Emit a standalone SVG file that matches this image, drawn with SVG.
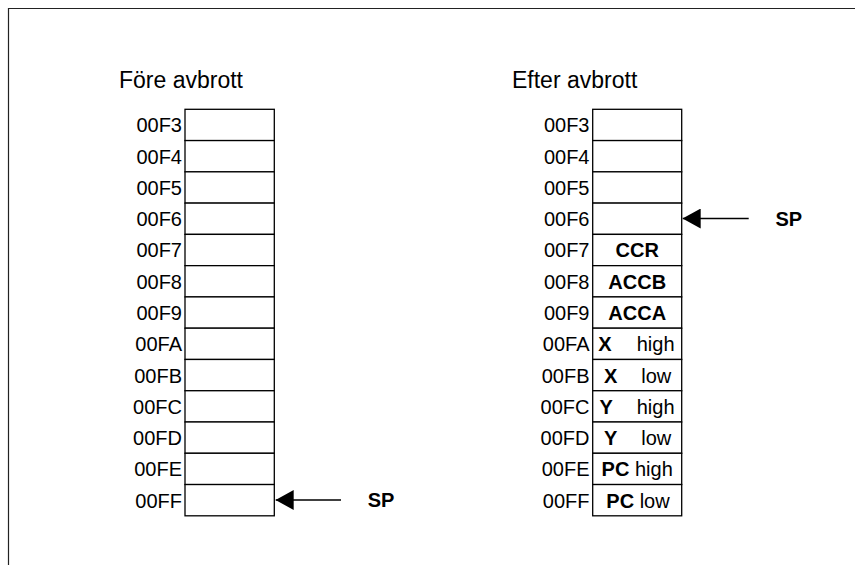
<svg xmlns="http://www.w3.org/2000/svg" width="855" height="565" viewBox="0 0 855 565">
<defs>
<style>
text{font-family:"Liberation Sans",Arial,sans-serif;fill:#000}
.title{font-size:23px}
.addr{font-size:20px;text-anchor:end}
.val{font-size:20px}
.c{text-anchor:middle}
.b{font-weight:bold}
.cell{fill:#fff;stroke:#000;stroke-width:1.3}
.frame{fill:none;stroke:#222;stroke-width:1.2}
.arrow{stroke:#000;stroke-width:1.3;fill:none;marker-end:url(#ah)}
</style>
<marker id="ah" viewBox="0 0 18 20" refX="18" refY="10" markerWidth="18" markerHeight="20" markerUnits="userSpaceOnUse" orient="auto">
<path d="M0,0 L18,10 L0,20 Z" fill="#000"/>
</marker>
</defs>
<rect width="855" height="565" fill="#fff"/>
<path class="frame" d="M8.5,565 V8.5 H855"/>
<text class="title" x="119" y="88">Före avbrott</text>
<text class="title" x="512" y="88">Efter avbrott</text>

<g id="before">
<g id="b00F3"><rect class="cell" x="185" y="109.3" width="89.3" height="31.27"/><text class="addr" x="182" y="132.3">00F3</text></g>
<g id="b00F4"><rect class="cell" x="185" y="140.57" width="89.3" height="31.27"/><text class="addr" x="182" y="163.6">00F4</text></g>
<g id="b00F5"><rect class="cell" x="185" y="171.84" width="89.3" height="31.27"/><text class="addr" x="182" y="194.8">00F5</text></g>
<g id="b00F6"><rect class="cell" x="185" y="203.11" width="89.3" height="31.27"/><text class="addr" x="182" y="226.1">00F6</text></g>
<g id="b00F7"><rect class="cell" x="185" y="234.38" width="89.3" height="31.27"/><text class="addr" x="182" y="257.4">00F7</text></g>
<g id="b00F8"><rect class="cell" x="185" y="265.65" width="89.3" height="31.27"/><text class="addr" x="182" y="288.7">00F8</text></g>
<g id="b00F9"><rect class="cell" x="185" y="296.92" width="89.3" height="31.27"/><text class="addr" x="182" y="319.9">00F9</text></g>
<g id="b00FA"><rect class="cell" x="185" y="328.19" width="89.3" height="31.27"/><text class="addr" x="182" y="351.2">00FA</text></g>
<g id="b00FB"><rect class="cell" x="185" y="359.46" width="89.3" height="31.27"/><text class="addr" x="182" y="382.5">00FB</text></g>
<g id="b00FC"><rect class="cell" x="185" y="390.73" width="89.3" height="31.27"/><text class="addr" x="182" y="413.7">00FC</text></g>
<g id="b00FD"><rect class="cell" x="185" y="422" width="89.3" height="31.27"/><text class="addr" x="182" y="445">00FD</text></g>
<g id="b00FE"><rect class="cell" x="185" y="453.27" width="89.3" height="31.27"/><text class="addr" x="182" y="476.3">00FE</text></g>
<g id="b00FF"><rect class="cell" x="185" y="484.54" width="89.3" height="31.27"/><text class="addr" x="182" y="507.5">00FF</text></g>
</g>

<g id="after">
<g id="a00F3"><rect class="cell" x="592.7" y="109.3" width="89" height="31.27"/><text class="addr" x="589.5" y="132.3">00F3</text></g>
<g id="a00F4"><rect class="cell" x="592.7" y="140.57" width="89" height="31.27"/><text class="addr" x="589.5" y="163.6">00F4</text></g>
<g id="a00F5"><rect class="cell" x="592.7" y="171.84" width="89" height="31.27"/><text class="addr" x="589.5" y="194.8">00F5</text></g>
<g id="a00F6"><rect class="cell" x="592.7" y="203.11" width="89" height="31.27"/><text class="addr" x="589.5" y="226.1">00F6</text></g>
<g id="a00F7"><rect class="cell" x="592.7" y="234.38" width="89" height="31.27"/><text class="addr" x="589.5" y="257.4">00F7</text><text class="val c b" x="637.2" y="257.4">CCR</text></g>
<g id="a00F8"><rect class="cell" x="592.7" y="265.65" width="89" height="31.27"/><text class="addr" x="589.5" y="288.7">00F8</text><text class="val c b" x="637.2" y="288.7">ACCB</text></g>
<g id="a00F9"><rect class="cell" x="592.7" y="296.92" width="89" height="31.27"/><text class="addr" x="589.5" y="319.9">00F9</text><text class="val c b" x="637.2" y="319.9">ACCA</text></g>
<g id="a00FA"><rect class="cell" x="592.7" y="328.19" width="89" height="31.27"/><text class="addr" x="589.5" y="351.2">00FA</text><text class="val b" x="598.3" y="351.2">X</text><text class="val" x="636.7" y="351.2">high</text></g>
<g id="a00FB"><rect class="cell" x="592.7" y="359.46" width="89" height="31.27"/><text class="addr" x="589.5" y="382.5">00FB</text><text class="val b" x="604" y="382.5">X</text><text class="val" x="641.2" y="382.5">low</text></g>
<g id="a00FC"><rect class="cell" x="592.7" y="390.73" width="89" height="31.27"/><text class="addr" x="589.5" y="413.7">00FC</text><text class="val b" x="599.5" y="413.7">Y</text><text class="val" x="636.7" y="413.7">high</text></g>
<g id="a00FD"><rect class="cell" x="592.7" y="422" width="89" height="31.27"/><text class="addr" x="589.5" y="445">00FD</text><text class="val b" x="604" y="445">Y</text><text class="val" x="641.2" y="445">low</text></g>
<g id="a00FE"><rect class="cell" x="592.7" y="453.27" width="89" height="31.27"/><text class="addr" x="589.5" y="476.3">00FE</text><text class="val c" x="637.2" y="476.3"><tspan class="b">PC</tspan> high</text></g>
<g id="a00FF"><rect class="cell" x="592.7" y="484.54" width="89" height="31.27"/><text class="addr" x="589.5" y="507.5">00FF</text><text class="val c" x="638" y="507.5"><tspan class="b">PC</tspan> low</text></g>
</g>

<g id="connectors">
<line class="arrow" x1="341" y1="500" x2="275.7" y2="500"/>
<line class="arrow" x1="748.7" y1="218.5" x2="682.7" y2="218.5"/>
</g>
<g id="sp-labels">
<text class="val b" x="367.7" y="507">SP</text>
<text class="val b" x="775.5" y="225.5">SP</text>
</g>
</svg>
